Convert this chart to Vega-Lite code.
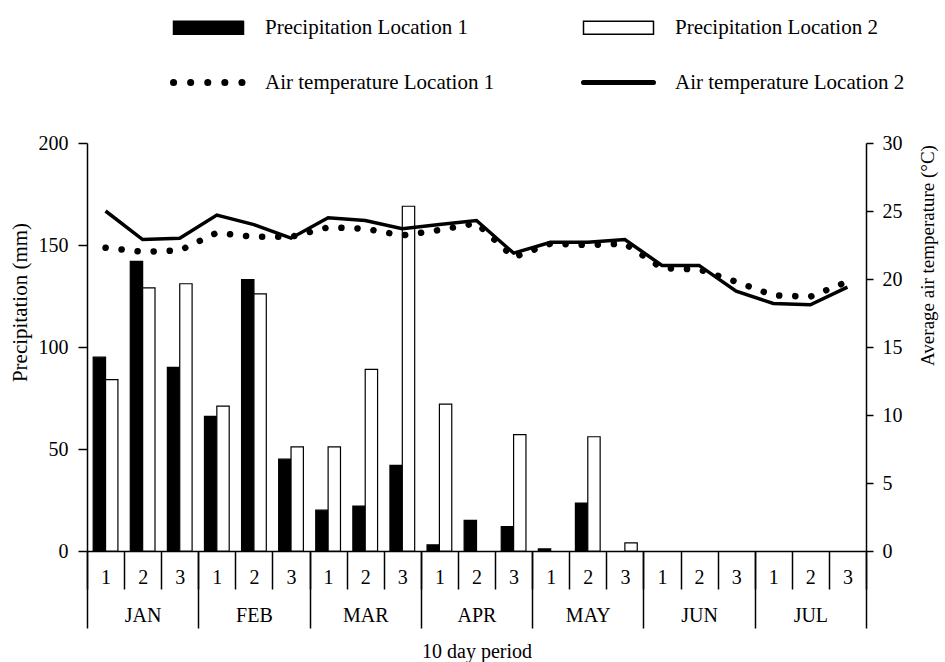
{
  "$schema": "https://vega.github.io/schema/vega-lite/v6.json",
  "width": 779,
  "height": 408,
  "autosize": {"type": "none"},
  "padding": {"left": 87, "top": 143, "right": 79, "bottom": 111},
  "background": "white",
  "config": {
    "view": {"stroke": null},
    "font": "Liberation Serif",
    "axis": {
      "labelFont": "Liberation Serif", "titleFont": "Liberation Serif",
      "labelFontSize": 20, "titleFontSize": 20, "titleFontWeight": "normal",
      "labelColor": "black", "titleColor": "black",
      "domainColor": "black", "tickColor": "black",
      "domainWidth": 1.5, "tickWidth": 1.5, "grid": false
    },
    "legend": {"labelFont": "Liberation Serif", "labelFontSize": 21, "labelColor": "black", "labelLimit": 500}
  },
  "datasets": {
    "precip": [
      {"period": "JAN-1", "month": "JAN", "series": "Precipitation Location 1", "mm": 95},
      {"period": "JAN-2", "month": "JAN", "series": "Precipitation Location 1", "mm": 142},
      {"period": "JAN-3", "month": "JAN", "series": "Precipitation Location 1", "mm": 90},
      {"period": "FEB-1", "month": "FEB", "series": "Precipitation Location 1", "mm": 66},
      {"period": "FEB-2", "month": "FEB", "series": "Precipitation Location 1", "mm": 133},
      {"period": "FEB-3", "month": "FEB", "series": "Precipitation Location 1", "mm": 45},
      {"period": "MAR-1", "month": "MAR", "series": "Precipitation Location 1", "mm": 20},
      {"period": "MAR-2", "month": "MAR", "series": "Precipitation Location 1", "mm": 22},
      {"period": "MAR-3", "month": "MAR", "series": "Precipitation Location 1", "mm": 42},
      {"period": "APR-1", "month": "APR", "series": "Precipitation Location 1", "mm": 3},
      {"period": "APR-2", "month": "APR", "series": "Precipitation Location 1", "mm": 15},
      {"period": "APR-3", "month": "APR", "series": "Precipitation Location 1", "mm": 12},
      {"period": "MAY-1", "month": "MAY", "series": "Precipitation Location 1", "mm": 1},
      {"period": "MAY-2", "month": "MAY", "series": "Precipitation Location 1", "mm": 23.5},
      {"period": "MAY-3", "month": "MAY", "series": "Precipitation Location 1", "mm": 0},
      {"period": "JUN-1", "month": "JUN", "series": "Precipitation Location 1", "mm": 0},
      {"period": "JUN-2", "month": "JUN", "series": "Precipitation Location 1", "mm": 0},
      {"period": "JUN-3", "month": "JUN", "series": "Precipitation Location 1", "mm": 0},
      {"period": "JUL-1", "month": "JUL", "series": "Precipitation Location 1", "mm": 0},
      {"period": "JUL-2", "month": "JUL", "series": "Precipitation Location 1", "mm": 0},
      {"period": "JUL-3", "month": "JUL", "series": "Precipitation Location 1", "mm": 0},
      {"period": "JAN-1", "month": "JAN", "series": "Precipitation Location 2", "mm": 84},
      {"period": "JAN-2", "month": "JAN", "series": "Precipitation Location 2", "mm": 129},
      {"period": "JAN-3", "month": "JAN", "series": "Precipitation Location 2", "mm": 131},
      {"period": "FEB-1", "month": "FEB", "series": "Precipitation Location 2", "mm": 71},
      {"period": "FEB-2", "month": "FEB", "series": "Precipitation Location 2", "mm": 126},
      {"period": "FEB-3", "month": "FEB", "series": "Precipitation Location 2", "mm": 51},
      {"period": "MAR-1", "month": "MAR", "series": "Precipitation Location 2", "mm": 51},
      {"period": "MAR-2", "month": "MAR", "series": "Precipitation Location 2", "mm": 89},
      {"period": "MAR-3", "month": "MAR", "series": "Precipitation Location 2", "mm": 169},
      {"period": "APR-1", "month": "APR", "series": "Precipitation Location 2", "mm": 72},
      {"period": "APR-2", "month": "APR", "series": "Precipitation Location 2", "mm": 0},
      {"period": "APR-3", "month": "APR", "series": "Precipitation Location 2", "mm": 57},
      {"period": "MAY-1", "month": "MAY", "series": "Precipitation Location 2", "mm": 0},
      {"period": "MAY-2", "month": "MAY", "series": "Precipitation Location 2", "mm": 56},
      {"period": "MAY-3", "month": "MAY", "series": "Precipitation Location 2", "mm": 4},
      {"period": "JUN-1", "month": "JUN", "series": "Precipitation Location 2", "mm": 0},
      {"period": "JUN-2", "month": "JUN", "series": "Precipitation Location 2", "mm": 0},
      {"period": "JUN-3", "month": "JUN", "series": "Precipitation Location 2", "mm": 0},
      {"period": "JUL-1", "month": "JUL", "series": "Precipitation Location 2", "mm": 0},
      {"period": "JUL-2", "month": "JUL", "series": "Precipitation Location 2", "mm": 0},
      {"period": "JUL-3", "month": "JUL", "series": "Precipitation Location 2", "mm": 0}
    ],
    "temp": [
      {"period": "JAN-1", "series": "Air temperature Location 1", "temp": 22.3},
      {"period": "JAN-2", "series": "Air temperature Location 1", "temp": 22.0},
      {"period": "JAN-3", "series": "Air temperature Location 1", "temp": 22.1},
      {"period": "FEB-1", "series": "Air temperature Location 1", "temp": 23.4},
      {"period": "FEB-2", "series": "Air temperature Location 1", "temp": 23.1},
      {"period": "FEB-3", "series": "Air temperature Location 1", "temp": 23.1},
      {"period": "MAR-1", "series": "Air temperature Location 1", "temp": 23.8},
      {"period": "MAR-2", "series": "Air temperature Location 1", "temp": 23.7},
      {"period": "MAR-3", "series": "Air temperature Location 1", "temp": 23.2},
      {"period": "APR-1", "series": "Air temperature Location 1", "temp": 23.6},
      {"period": "APR-2", "series": "Air temperature Location 1", "temp": 24.1},
      {"period": "APR-3", "series": "Air temperature Location 1", "temp": 21.6},
      {"period": "MAY-1", "series": "Air temperature Location 1", "temp": 22.6},
      {"period": "MAY-2", "series": "Air temperature Location 1", "temp": 22.5},
      {"period": "MAY-3", "series": "Air temperature Location 1", "temp": 22.6},
      {"period": "JUN-1", "series": "Air temperature Location 1", "temp": 20.8},
      {"period": "JUN-2", "series": "Air temperature Location 1", "temp": 20.7},
      {"period": "JUN-3", "series": "Air temperature Location 1", "temp": 19.8},
      {"period": "JUL-1", "series": "Air temperature Location 1", "temp": 18.8},
      {"period": "JUL-2", "series": "Air temperature Location 1", "temp": 18.7},
      {"period": "JUL-3", "series": "Air temperature Location 1", "temp": 19.8},
      {"period": "JAN-1", "series": "Air temperature Location 2", "temp": 25.0},
      {"period": "JAN-2", "series": "Air temperature Location 2", "temp": 22.9},
      {"period": "JAN-3", "series": "Air temperature Location 2", "temp": 23.0},
      {"period": "FEB-1", "series": "Air temperature Location 2", "temp": 24.7},
      {"period": "FEB-2", "series": "Air temperature Location 2", "temp": 24.0},
      {"period": "FEB-3", "series": "Air temperature Location 2", "temp": 23.0},
      {"period": "MAR-1", "series": "Air temperature Location 2", "temp": 24.5},
      {"period": "MAR-2", "series": "Air temperature Location 2", "temp": 24.3},
      {"period": "MAR-3", "series": "Air temperature Location 2", "temp": 23.7},
      {"period": "APR-1", "series": "Air temperature Location 2", "temp": 24.0},
      {"period": "APR-2", "series": "Air temperature Location 2", "temp": 24.3},
      {"period": "APR-3", "series": "Air temperature Location 2", "temp": 21.9},
      {"period": "MAY-1", "series": "Air temperature Location 2", "temp": 22.7},
      {"period": "MAY-2", "series": "Air temperature Location 2", "temp": 22.7},
      {"period": "MAY-3", "series": "Air temperature Location 2", "temp": 22.9},
      {"period": "JUN-1", "series": "Air temperature Location 2", "temp": 21.0},
      {"period": "JUN-2", "series": "Air temperature Location 2", "temp": 21.0},
      {"period": "JUN-3", "series": "Air temperature Location 2", "temp": 19.1},
      {"period": "JUL-1", "series": "Air temperature Location 2", "temp": 18.2},
      {"period": "JUL-2", "series": "Air temperature Location 2", "temp": 18.1},
      {"period": "JUL-3", "series": "Air temperature Location 2", "temp": 19.4}
    ]
  },
  "layer": [
    {
      "layer": [
        {
          "data": {"name": "precip"},
          "transform": [{"filter": "datum.mm > 0"}],
          "mark": {"type": "bar", "stroke": "black", "strokeWidth": 1.2},
          "encoding": {
            "x": {
              "field": "period", "type": "nominal",
              "scale": {"domain": ["JAN-1","JAN-2","JAN-3","FEB-1","FEB-2","FEB-3","MAR-1","MAR-2","MAR-3","APR-1","APR-2","APR-3","MAY-1","MAY-2","MAY-3","JUN-1","JUN-2","JUN-3","JUL-1","JUL-2","JUL-3"], "paddingInner": 0, "paddingOuter": 0},
              "axis": {"title": null, "orient": "bottom", "labelExpr": "split(datum.value, '-')[1]", "labelAngle": 0, "tickBand": "extent", "tickSize": 38, "labelPadding": -12, "labelBaseline": "middle"}
            },
            "xOffset": {"field": "series", "type": "nominal", "scale": {"domain": ["Precipitation Location 1", "Precipitation Location 2"], "paddingInner": 0, "paddingOuter": 0.5}},
            "y": {
              "field": "mm", "type": "quantitative",
              "scale": {"domain": [0, 200]},
              "axis": {"orient": "left", "values": [0, 50, 100, 150, 200], "tickSize": 9, "labelPadding": 10, "title": "Precipitation (mm)", "titleFontSize": 21, "titleX": -67, "titleY": 159, "titleAngle": 270, "titleAlign": "center", "titleBaseline": "middle"}
            },
            "fill": {
              "field": "series", "type": "nominal",
              "scale": {"domain": ["Precipitation Location 1", "Precipitation Location 2", "Air temperature Location 1", "Air temperature Location 2"], "range": ["black", "white", "transparent", "transparent"]},
              "legend": {
                "title": null, "orient": "none", "legendX": 111, "legendY": -126,
                "columns": 2, "direction": "horizontal",
                "symbolSize": 4900, "columnPadding": 78, "rowPadding": 30, "labelOffset": 46,
                "labelFont": "Liberation Serif", "labelFontSize": 21, "labelColor": "black", "labelLimit": 500,
                "symbolStrokeColor": "black", "symbolOpacity": 1,
                "encode": {
                  "symbols": {
                    "update": {
                      "shape": {"signal": "indexof(datum.value, 'Air') == 0 ? 'stroke' : 'M-1,-0.186H1V0.186H-1Z'"},
                      "strokeWidth": {"signal": "datum.value == 'Air temperature Location 1' ? 7 : (datum.value == 'Air temperature Location 2' ? 5 : 1.5)"},
                      "strokeDash": {"signal": "datum.value == 'Air temperature Location 1' ? [0.1, 17] : [1, 0]"},
                      "strokeCap": {"value": "round"},
                      "opacity": {"value": 1},
                      "strokeOpacity": {"value": 1},
                      "fillOpacity": {"value": 1}
                    }
                  }
                }
              }
            }
          }
        },
        {
          "data": {"name": "temp"},
          "layer": [
            {
              "transform": [{"filter": "datum.series == 'Air temperature Location 1'"}],
              "mark": {"type": "line", "strokeWidth": 6.5, "strokeDash": [0.1, 16], "strokeCap": "round"},
              "encoding": {
                "x": {"field": "period", "type": "nominal", "bandPosition": 0.5},
                "y": {"field": "temp", "type": "quantitative"},
                "stroke": {"field": "series", "type": "nominal", "scale": {"domain": ["Precipitation Location 1", "Precipitation Location 2", "Air temperature Location 1", "Air temperature Location 2"], "range": ["black", "black", "black", "black"]}}
              }
            },
            {
              "transform": [{"filter": "datum.series == 'Air temperature Location 2'"}],
              "mark": {"type": "line", "strokeWidth": 3.5, "strokeJoin": "miter"},
              "encoding": {
                "x": {"field": "period", "type": "nominal", "bandPosition": 0.5},
                "y": {"field": "temp", "type": "quantitative"},
                "stroke": {"field": "series", "type": "nominal"}
              }
            }
          ],
          "encoding": {
            "y": {
              "field": "temp", "type": "quantitative",
              "scale": {"domain": [0, 30]},
              "axis": {"orient": "right", "values": [0, 5, 10, 15, 20, 25, 30], "tickSize": 7, "labelPadding": 9, "title": "Average air temperature (°C)", "titleFontSize": 19, "titleX": 61, "titleY": 112, "titleAngle": 270, "titleAlign": "center", "titleBaseline": "middle"}
            }
          }
        }
      ],
      "resolve": {"scale": {"y": "independent"}}
    },
    {
      "data": {"name": "precip"},
      "mark": {"type": "text", "opacity": 0},
      "encoding": {
        "x": {
          "field": "month", "type": "nominal",
          "scale": {"domain": ["JAN", "FEB", "MAR", "APR", "MAY", "JUN", "JUL"], "paddingInner": 0, "paddingOuter": 0},
          "axis": {"orient": "bottom", "domain": false, "tickBand": "extent", "tickSize": 77, "labelPadding": -13, "labelBaseline": "middle", "labelAngle": 0, "title": "10 day period", "titleY": 100, "titleBaseline": "middle", "titleAlign": "center"}
        },
        "text": {"field": "month"}
      }
    }
  ],
  "resolve": {"scale": {"x": "independent"}}
}
